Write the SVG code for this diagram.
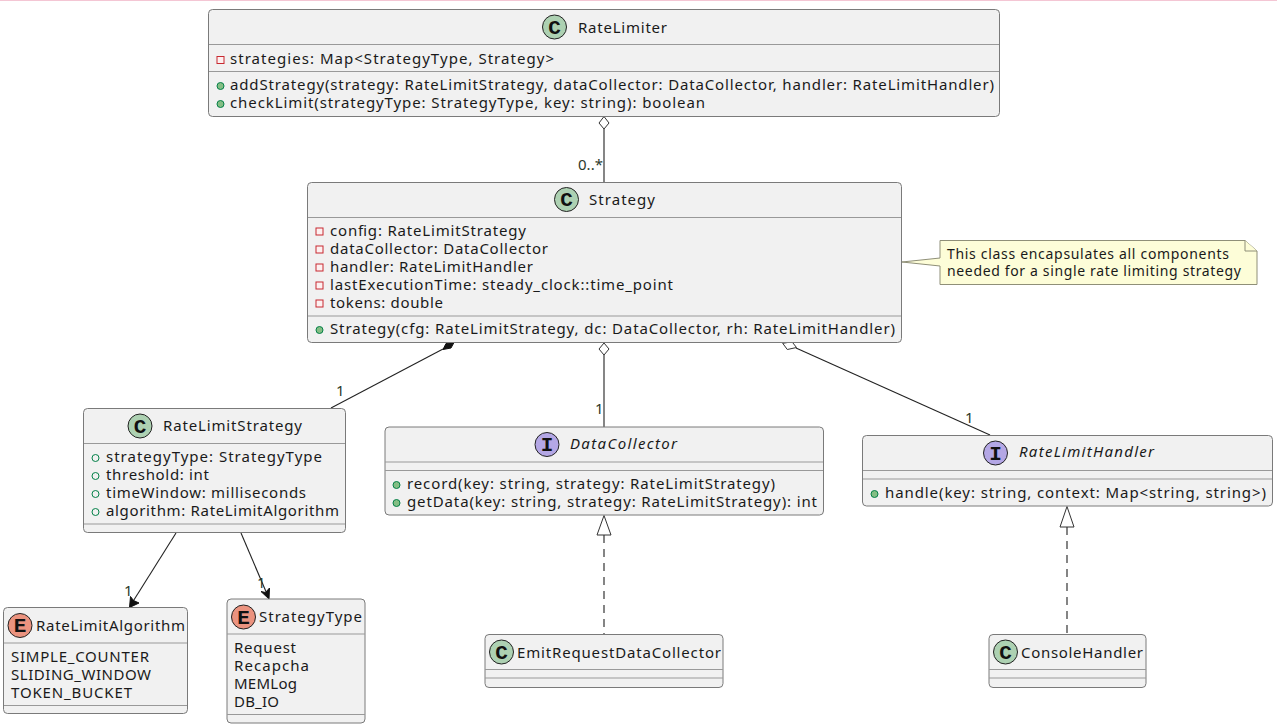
<svg xmlns="http://www.w3.org/2000/svg" width="1277" height="727" viewBox="0 0 1277 727">
  <style>
    text { font-family: "Noto Sans", "Open Sans", sans-serif; font-size: 15px; fill: #1a1a1a; }
    .box { fill: #f1f1f1; stroke: #7a7a7a; stroke-width: 1; }
    .sep { stroke: #999; stroke-width: 1.2; fill: none; }
    .badge { stroke: #222; stroke-width: 1; }
    .cls { fill: #add1b2; }
    .enm { fill: #eb937f; }
    .ifc { fill: #b4a7e5; }
    .letter { font-family: "Liberation Mono", monospace; font-weight: bold; font-size: 21px; fill: #111; text-anchor: middle; }
    .it { font-style: italic; }
    .priv { fill: #fdf0f0; stroke: #c82930; stroke-width: 1; }
    .pub { fill: #84be84; stroke: #038048; stroke-width: 1; }
    .fld { fill: none; stroke: #038048; stroke-width: 1; }
    .link { stroke: #222; stroke-width: 1.1; fill: none; }
    .dash { stroke-dasharray: 8 6; }
    .hollow { fill: #fff; stroke: #333; stroke-width: 1; }
    .solid { fill: #111; stroke: #111; stroke-width: 1; }
    .mult { font-size: 15px; fill: #2c3a2c; }
    .note { fill: #fdfdd8; stroke: #8f8f78; stroke-width: 1; }
    .notetext { font-size: 14px; }
  </style>

  <rect x="0" y="0" width="1277" height="1" fill="#f4c6d4"/>

  <g id="connectors">
    <line class="link" x1="604" y1="129" x2="604" y2="182"/>
    <polygon class="hollow" points="604,116.500 609,123 604,129 599,123"/>
    <line class="link" x1="443" y1="349" x2="331" y2="408"/>
    <polygon class="solid" points="454,342.500 451,348 443,349.500 446,343.500"/>
    <line class="link" x1="604" y1="355" x2="604" y2="427"/>
    <polygon class="hollow" points="604,343 609,349 604,355 599,349"/>
    <line class="link" x1="796" y1="348" x2="990" y2="435"/>
    <polygon class="hollow" points="782.700,343.300 792,341.800 796.500,347.500 787.300,349.500"/>
    <line class="link" x1="176" y1="533" x2="132" y2="603"/>
    <polygon class="solid" points="129.500,607.500 130.500,596.500 133.500,600.500 139,603"/>
    <line class="link" x1="241" y1="533" x2="267" y2="594"/>
    <polygon class="solid" points="269,599 261,591.500 265.500,592.500 269.500,588"/>
    <line class="link dash" x1="604" y1="535" x2="604" y2="634"/>
    <polygon class="hollow" points="604,515.500 611,535 597,535"/>
    <line class="link dash" x1="1067" y1="527" x2="1067" y2="634"/>
    <polygon class="hollow" points="1067,506.500 1074,527 1060,527"/>
    <text class="mult" x="578" y="170" textLength="25">0..*</text>
    <text class="mult" x="336" y="396">1</text>
    <text class="mult" x="595" y="414">1</text>
    <text class="mult" x="965" y="423">1</text>
    <text class="mult" x="124" y="596">1</text>
    <text class="mult" x="257" y="588">1</text>
  </g>

  <g id="RateLimiter">
    <rect class="box" x="208.500" y="9.500" width="791" height="107" rx="4"/>
    <line class="sep" x1="209" y1="44.500" x2="999" y2="44.500"/>
    <line class="sep" x1="209" y1="71.500" x2="999" y2="71.500"/>
    <circle class="badge cls" cx="554.500" cy="27" r="12"/>
    <text class="letter" x="554.500" y="33.500">C</text>
    <text x="578" y="33" textLength="89">RateLimiter</text>
    <rect class="priv" x="217" y="56.500" width="7" height="7"/>
    <text x="230" y="64" textLength="324">strategies: Map&lt;StrategyType, Strategy&gt;</text>
    <circle class="pub" cx="220.500" cy="86" r="3.500"/>
    <text x="230" y="90" textLength="764">addStrategy(strategy: RateLimitStrategy, dataCollector: DataCollector, handler: RateLimitHandler)</text>
    <circle class="pub" cx="220.500" cy="104" r="3.500"/>
    <text x="230" y="108" textLength="475">checkLimit(strategyType: StrategyType, key: string): boolean</text>
  </g>

  <g id="Strategy">
    <rect class="box" x="307.500" y="182.500" width="594" height="160" rx="4"/>
    <line class="sep" x1="308" y1="217.500" x2="901" y2="217.500"/>
    <line class="sep" x1="308" y1="316" x2="901" y2="316"/>
    <circle class="badge cls" cx="566.500" cy="199.500" r="12"/>
    <text class="letter" x="566.500" y="206">C</text>
    <text x="589" y="205" textLength="66">Strategy</text>
    <rect class="priv" x="316" y="228" width="7" height="7"/>
    <text x="330" y="236" textLength="196">config: RateLimitStrategy</text>
    <rect class="priv" x="316" y="246" width="7" height="7"/>
    <text x="330" y="254" textLength="218">dataCollector: DataCollector</text>
    <rect class="priv" x="316" y="264" width="7" height="7"/>
    <text x="330" y="272" textLength="203">handler: RateLimitHandler</text>
    <rect class="priv" x="316" y="282" width="7" height="7"/>
    <text x="330" y="290" textLength="343">lastExecutionTime: steady_clock::time_point</text>
    <rect class="priv" x="316" y="300" width="7" height="7"/>
    <text x="330" y="308" textLength="113">tokens: double</text>
    <circle class="pub" cx="319.500" cy="330" r="3.500"/>
    <text x="330" y="334" textLength="565">Strategy(cfg: RateLimitStrategy, dc: DataCollector, rh: RateLimitHandler)</text>
  </g>

  <g id="StrategyNote">
    <path class="note" d="M902,262 L940,258 L940,240.500 L1245,240.500 L1257,251 L1257,284.500 L940,284.500 L940,266 Z"/>
    <path class="note" d="M1245,240.500 L1245,251 L1257,251"/>
    <text class="notetext" x="947" y="259" textLength="282">This class encapsulates all components</text>
    <text class="notetext" x="947" y="276" textLength="294">needed for a single rate limiting strategy</text>
  </g>

  <g id="RateLimitStrategy">
    <rect class="box" x="83.500" y="408.500" width="262" height="124" rx="4"/>
    <line class="sep" x1="84" y1="443.500" x2="345" y2="443.500"/>
    <line class="sep" x1="84" y1="524" x2="345" y2="524"/>
    <circle class="badge cls" cx="140" cy="426" r="12"/>
    <text class="letter" x="140" y="432.500">C</text>
    <text x="163" y="431" textLength="139">RateLimitStrategy</text>
    <circle class="fld" cx="95.500" cy="458" r="3.500"/>
    <text x="106" y="462" textLength="216">strategyType: StrategyType</text>
    <circle class="fld" cx="95.500" cy="476" r="3.500"/>
    <text x="106" y="480" textLength="103">threshold: int</text>
    <circle class="fld" cx="95.500" cy="494" r="3.500"/>
    <text x="106" y="498" textLength="200">timeWindow: milliseconds</text>
    <circle class="fld" cx="95.500" cy="512" r="3.500"/>
    <text x="106" y="516" textLength="233">algorithm: RateLimitAlgorithm</text>
  </g>

  <g id="RateLimitAlgorithm">
    <rect class="box" x="3.500" y="607.500" width="184" height="106" rx="4"/>
    <line class="sep" x1="4" y1="643" x2="187" y2="643"/>
    <line class="sep" x1="4" y1="705.500" x2="187" y2="705.500"/>
    <circle class="badge enm" cx="20" cy="625.500" r="12"/>
    <text class="letter" x="20" y="632">E</text>
    <text x="36" y="631" textLength="149">RateLimitAlgorithm</text>
    <text x="11" y="662" textLength="138">SIMPLE_COUNTER</text>
    <text x="11" y="680" textLength="140">SLIDING_WINDOW</text>
    <text x="11" y="698" textLength="121">TOKEN_BUCKET</text>
  </g>

  <g id="StrategyType">
    <rect class="box" x="227" y="599" width="138" height="124" rx="4"/>
    <line class="sep" x1="227" y1="634" x2="365" y2="634"/>
    <line class="sep" x1="227" y1="714.500" x2="365" y2="714.500"/>
    <circle class="badge enm" cx="243.500" cy="617" r="12"/>
    <text class="letter" x="243.500" y="623.500">E</text>
    <text x="259" y="622" textLength="103">StrategyType</text>
    <text x="234" y="653" textLength="62">Request</text>
    <text x="234" y="671" textLength="75">Recapcha</text>
    <text x="234" y="689" textLength="63">MEMLog</text>
    <text x="234" y="707" textLength="45">DB_IO</text>
  </g>

  <g id="DataCollector">
    <rect class="box" x="385" y="427" width="438.500" height="88" rx="4"/>
    <line class="sep" x1="385" y1="462" x2="823" y2="462"/>
    <line class="sep" x1="385" y1="470.500" x2="823" y2="470.500"/>
    <circle class="badge ifc" cx="547" cy="444.500" r="12"/>
    <text class="letter" x="547" y="451">I</text>
    <text class="it" x="570" y="449" textLength="107">DataCollector</text>
    <circle class="pub" cx="396.500" cy="485" r="3.500"/>
    <text x="407" y="489" textLength="368">record(key: string, strategy: RateLimitStrategy)</text>
    <circle class="pub" cx="396.500" cy="503" r="3.500"/>
    <text x="407" y="507" textLength="410">getData(key: string, strategy: RateLimitStrategy): int</text>
  </g>

  <g id="RateLimitHandler">
    <rect class="box" x="862.500" y="435.500" width="410" height="70.500" rx="4"/>
    <line class="sep" x1="863" y1="470.500" x2="1272" y2="470.500"/>
    <line class="sep" x1="863" y1="479" x2="1272" y2="479"/>
    <circle class="badge ifc" cx="995.500" cy="453" r="12"/>
    <text class="letter" x="995.500" y="459.500">I</text>
    <text class="it" x="1019" y="457" textLength="135">RateLimitHandler</text>
    <circle class="pub" cx="874.500" cy="494" r="3.500"/>
    <text x="885" y="498" textLength="381">handle(key: string, context: Map&lt;string, string&gt;)</text>
  </g>

  <g id="EmitRequestDataCollector">
    <rect class="box" x="485" y="634.500" width="238" height="53" rx="4"/>
    <line class="sep" x1="485" y1="669.500" x2="723" y2="669.500"/>
    <line class="sep" x1="485" y1="678" x2="723" y2="678"/>
    <circle class="badge cls" cx="501.500" cy="652" r="12"/>
    <text class="letter" x="501.500" y="658.500">C</text>
    <text x="517" y="658" textLength="204">EmitRequestDataCollector</text>
  </g>

  <g id="ConsoleHandler">
    <rect class="box" x="989" y="634.500" width="157" height="53" rx="4"/>
    <line class="sep" x1="989" y1="669.500" x2="1146" y2="669.500"/>
    <line class="sep" x1="989" y1="678" x2="1146" y2="678"/>
    <circle class="badge cls" cx="1005.500" cy="652" r="12"/>
    <text class="letter" x="1005.500" y="658.500">C</text>
    <text x="1021" y="658" textLength="122">ConsoleHandler</text>
  </g>
</svg>
